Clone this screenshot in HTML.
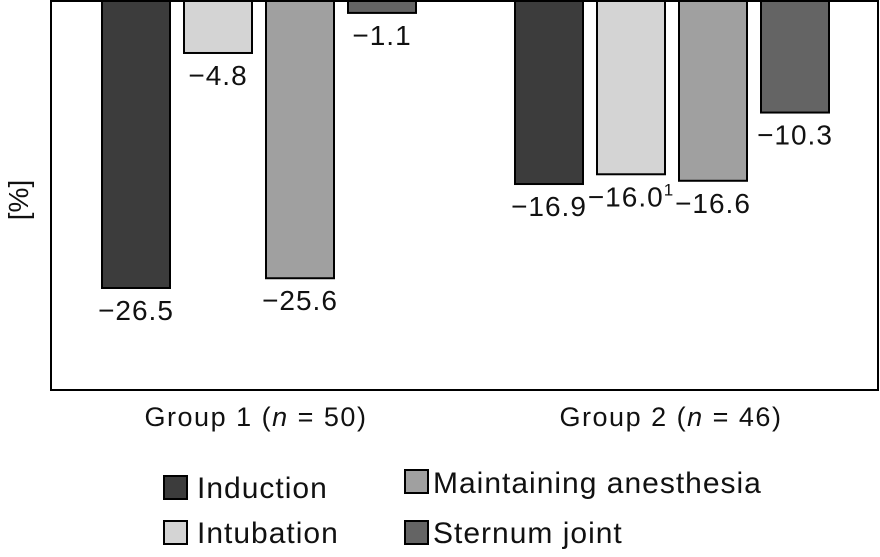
<!DOCTYPE html>
<html><head><meta charset="utf-8"><style>
body{margin:0;background:#fff;font-family:"Liberation Sans","DejaVu Sans",sans-serif}
svg text{font-family:"Liberation Sans","DejaVu Sans",sans-serif;fill:#111}
</style></head><body>
<svg id="chart" width="880" height="552" viewBox="0 0 880 552" xmlns="http://www.w3.org/2000/svg">
<rect x="51" y="1" width="827" height="389" fill="#fff" stroke="#000" stroke-width="2"/>
<text transform="translate(28,200) rotate(-90)" font-size="28" text-anchor="middle">[%]</text>
<g id="bars"></g>
<text x="256" y="426" font-size="27" letter-spacing="1.5" text-anchor="middle">Group 1 (<tspan font-style="italic">n</tspan> = 50)</text>
<text x="671" y="426" font-size="27" letter-spacing="1.5" text-anchor="middle">Group 2 (<tspan font-style="italic">n</tspan> = 46)</text>
<g font-size="30" letter-spacing="1">
<g><rect x="164" y="476" width="23" height="23" fill="#3c3c3c" stroke="#000" stroke-width="2"/><text x="197" y="498">Induction</text></g>
<g><rect x="164" y="521" width="23" height="23" fill="#d4d4d4" stroke="#000" stroke-width="2"/><text x="197" y="543">Intubation</text></g>
<g><rect x="405" y="470" width="23" height="23" fill="#a0a0a0" stroke="#000" stroke-width="2"/><text x="433" y="493">Maintaining anesthesia</text></g>
<g><rect x="405" y="521" width="23" height="23" fill="#646464" stroke="#000" stroke-width="2"/><text x="433" y="543">Sternum joint</text></g>
</g>
</svg>
<script>
const groups=["Group 1","Group 2"];
const series=["Induction","Intubation","Maintaining anesthesia","Sternum joint"];
const group1Values=[-26.5,-4.8,-25.6,-1.1];
const group2Values=[-16.9,-16.0,-16.6,-10.3];
const valueLabels=[["−26.5","−4.8","−25.6","−1.1"],["−16.9","−16.0","−16.6","−10.3"]];
const fills=["#3c3c3c","#d4d4d4","#a0a0a0","#646464"];
const allValues=[group1Values,group2Values];
const y0=1, pxPerUnit=10.83;
function yScale(v){return y0-v*pxPerUnit;}
function xScale(g,s){return [102,515][g]+s*82;}
const NS="http://www.w3.org/2000/svg";
const g=document.getElementById('bars');
allValues.forEach((vals,gi)=>{vals.forEach((v,si)=>{
 const x=xScale(gi,si), yb=yScale(v);
 const r=document.createElementNS(NS,'rect');
 r.setAttribute('x',x);r.setAttribute('y',y0);r.setAttribute('width',68);r.setAttribute('height',yb-y0);
 r.setAttribute('fill',fills[si]);r.setAttribute('stroke','#000');r.setAttribute('stroke-width','2');
 
 
 g.appendChild(r);
 const t=document.createElementNS(NS,'text');
 t.setAttribute('x',x+34);t.setAttribute('y',yb+32);t.setAttribute('font-size','28');t.setAttribute('letter-spacing','1');t.setAttribute('text-anchor','middle');
 t.textContent=valueLabels[gi][si];
 if(gi===1&&si===1){const sp=document.createElementNS(NS,'tspan');sp.setAttribute('font-size','17');sp.setAttribute('dy','-11');sp.textContent='1';t.appendChild(sp);}
 
 
 g.appendChild(t);
});});
</script>
</body></html>
